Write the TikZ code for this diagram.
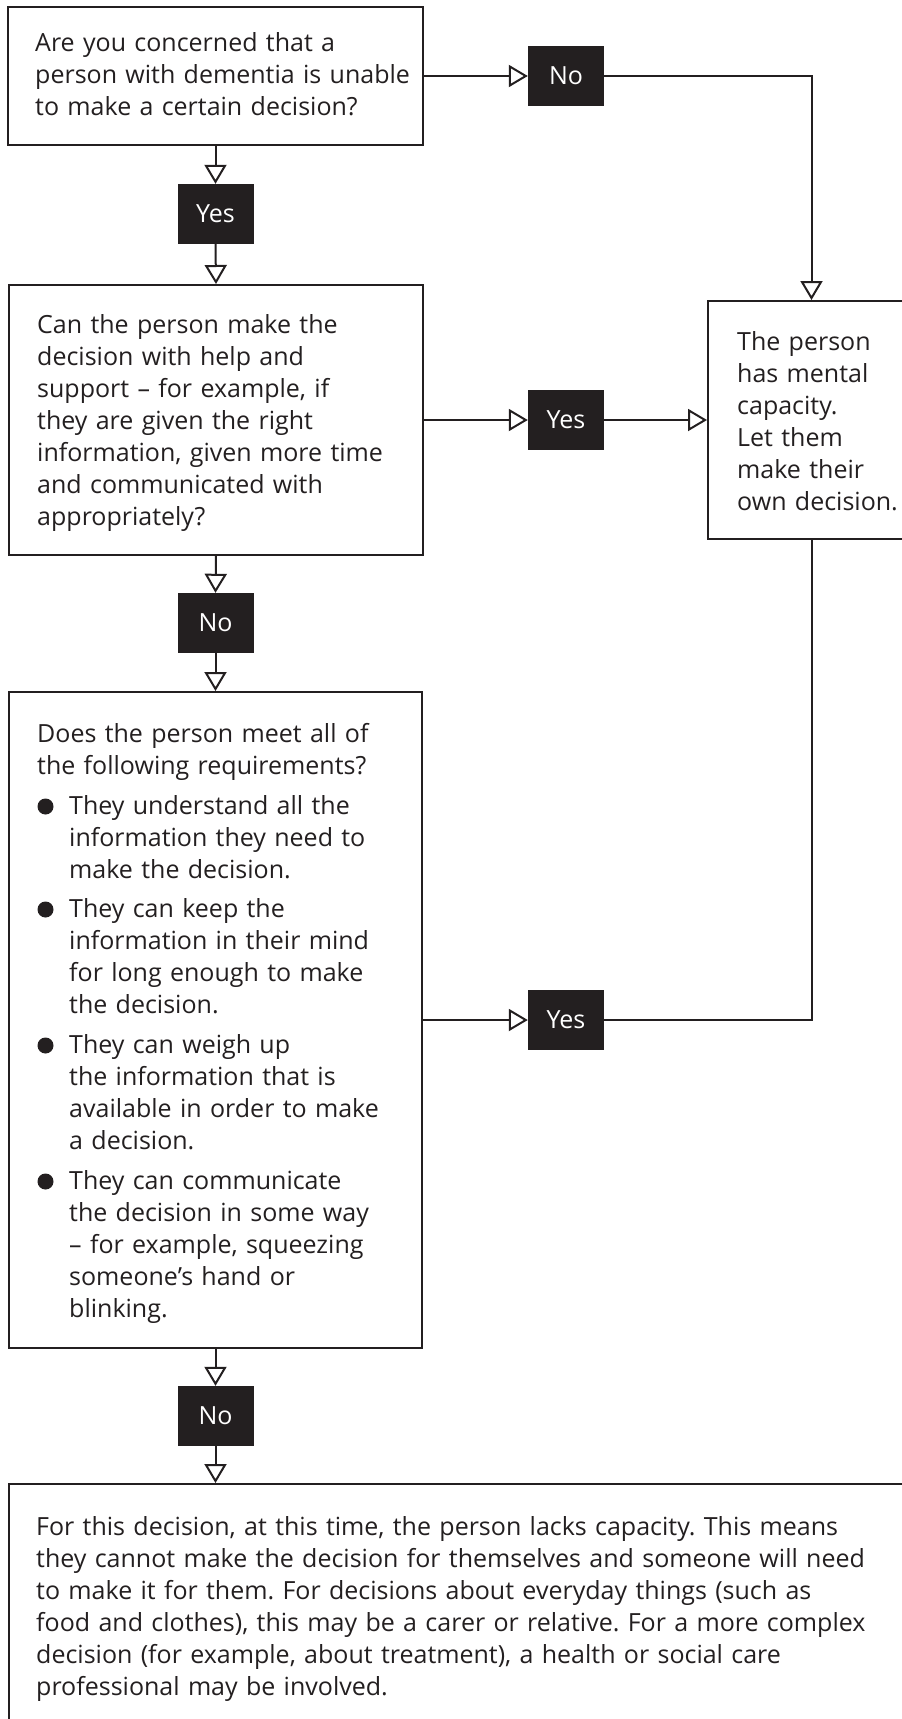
\documentclass[tikz,border=0pt]{standalone}
\usepackage{fontspec}
\setmainfont{Open Sans}
\usetikzlibrary{arrows.meta}
\definecolor{ink}{HTML}{231F20}
\frenchspacing
\begin{document}
\begin{tikzpicture}[x=1pt,y=-1pt,
  box/.style={draw=ink, line width=2pt, inner sep=0pt},
  txt/.style={inner sep=0pt, anchor=base west, text width=#1, align=left, text=ink, font=\fontsize{25}{32}\selectfont\frenchspacing},
  lbl/.style={fill=ink, text=white, minimum width=76pt, minimum height=60pt, inner sep=0pt, font=\fontsize{25}{30}\selectfont},
  arr/.style={draw=ink, line width=2pt, -{Triangle[open, length=19pt, width=22pt]}},
  ln/.style={draw=ink, line width=2pt}
]
\useasboundingbox (0,0) rectangle (902,1719);
\clip (0,0) rectangle (902,1719);

% boxes
\node[box, minimum width=415pt, minimum height=138pt] (q1) at (215.5,76) {};
\node[box, minimum width=414pt, minimum height=270pt] (q2) at (216,420) {};
\node[box, minimum width=207pt, minimum height=238pt] (rbox) at (811.5,420) {};
\node[box, minimum width=413pt, minimum height=656pt] (q3) at (215.5,1020) {};
\node[box, minimum width=906pt, minimum height=246pt] (q4) at (462,1607) {};

% labels
\node[lbl] (no1) at (566,76) {No};
\node[lbl] (yes1) at (215.5,214) {Yes};
\node[lbl] (yes2) at (566,420) {Yes};
\node[lbl] (no2) at (215.5,623) {No};
\node[lbl] (yes3) at (566,1020) {Yes};
\node[lbl] (no3) at (215.5,1416) {No};

% texts
\node[txt=380pt] (t1) at (35,51) {Are you concerned that a\\person with dementia is unable\\to make a certain decision?};
\node[txt=380pt] (t2) at (37,333) {Can the person make the\\decision with help and\\support – for example, if\\they are given the right\\information, given more time\\and communicated with\\appropriately?};
\node[txt=170pt] (tr) at (737,350) {The person\\has mental\\capacity.\\Let them\\make their\\own decision.};
\node[txt=380pt] (t3) at (37,742) {Does the person meet all of\\the following requirements?};
\node[txt=345pt] (i1) at (69,814) {They understand all the\\information they need to\\make the decision.};
\node[txt=345pt] (i2) at (69,917) {They can keep the\\information in their mind\\for long enough to make\\the decision.};
\node[txt=345pt] (i3) at (69,1053) {They can weigh up\\the information that is\\available in order to make\\a decision.};
\node[txt=345pt] (i4) at (69,1189) {They can communicate\\the decision in some way\\– for example, squeezing\\someone’s hand or\\blinking.};
\node[txt=850pt] (t4) at (36,1535) {For this decision, at this time, the person lacks capacity. This means\\they cannot make the decision for themselves and someone will need\\to make it for them. For decisions about everyday things (such as\\food and clothes), this may be a carer or relative. For a more complex\\decision (for example, about treatment), a health or social care\\professional may be involved.};

% bullets
\foreach \i in {i1,i2,i3,i4}
  \fill[ink] ([xshift=-23.5pt,yshift=7.5pt]\i.base west) circle (8pt);

% connectors
\draw[arr] (q1.east) -- (no1.west);
\draw[arr] (no1.east) -| (rbox.north);
\draw[arr] (q1.south) -- (yes1.north);
\draw[arr] (yes1.south) -- (q2.north);
\draw[arr] (q2.east) -- (yes2.west);
\draw[arr] (yes2.east) -- (rbox.west);
\draw[arr] (q2.south) -- (no2.north);
\draw[arr] (no2.south) -- (q3.north);
\draw[arr] (q3.east) -- (yes3.west);
\draw[ln] (yes3.east) -| (rbox.south);
\draw[arr] (q3.south) -- (no3.north);
\draw[arr] (no3.south) -- (no3.south |- q4.north);
\end{tikzpicture}
\end{document}
